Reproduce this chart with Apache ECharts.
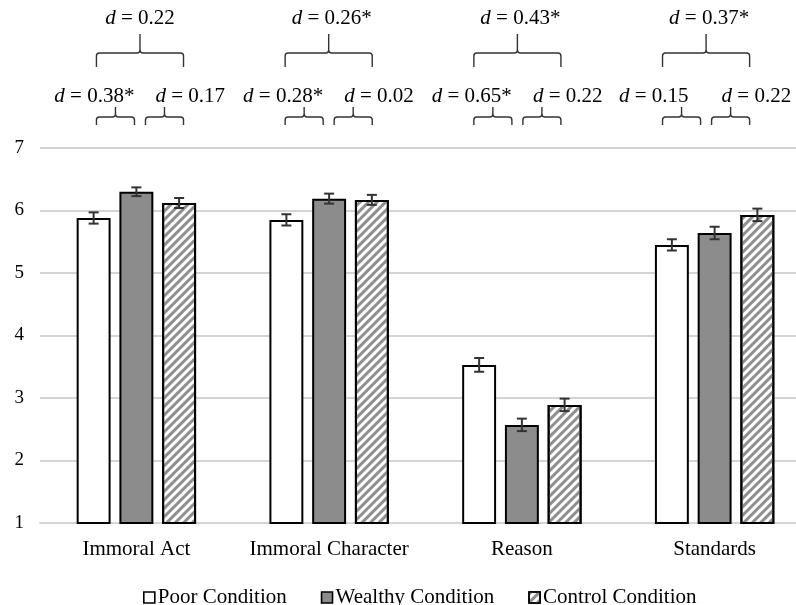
<!DOCTYPE html>
<html>
<head>
<meta charset="utf-8">
<script src="https://cdn.jsdelivr.net/npm/echarts@6/dist/echarts.min.js"></script>
<style>
html,body{margin:0;padding:0;background:#fff;}
#chart{width:796px;height:605px;}
</style>
</head>
<body>
<div id="chart"></div>
<script>
// ---- data ----
const categories = ['Immoral Act', 'Immoral Character', 'Reason', 'Standards'];
const seriesNames = ['Poor Condition', 'Wealthy Condition', 'Control Condition'];
const poorMeans = [5.88, 5.85, 3.53, 5.45];
const wealthyMeans = [6.30, 6.19, 2.57, 5.64];
const controlMeans = [6.12, 6.17, 2.89, 5.93];
const poorErr = [0.09, 0.09, 0.11, 0.09];
const wealthyErr = [0.07, 0.08, 0.10, 0.10];
const controlErr = [0.08, 0.08, 0.10, 0.10];
const yTicks = [1, 2, 3, 4, 5, 6, 7];
// effect sizes: overall (top), poor vs wealthy (left), wealthy vs control (right)
const dOverall = ['0.22', '0.26*', '0.43*', '0.37*'];
const dPoorWealthy = ['0.38*', '0.28*', '0.65*', '0.15'];
const dWealthyControl = ['0.17', '0.02', '0.22', '0.22'];

// ---- styling ----
const FONT = "'Liberation Serif', 'Times New Roman', serif";
const BAR_W = 0.176;   // fraction of band
const BAR_GAP = 0.26;  // fraction of bar width
const LINE = '#333';
const FS = 21;
const ANN_ORIGIN = 308;  // annotation overlay is slightly compressed horizontally
const ANN_SCALE = 0.979;

const means = [poorMeans, wealthyMeans, controlMeans];
const errs = [poorErr, wealthyErr, controlErr];

const chart = echarts.init(document.getElementById('chart'), null, {renderer: 'canvas'});

function barOffset(api, k) {
  const band = api.size([1, 0])[0];
  const bw = band * BAR_W;
  return (k - 1) * bw * (1 + BAR_GAP);
}

function errorSeries(k) {
  return {
    type: 'custom',
    name: seriesNames[k] + ' error',
    z: 5,
    silent: true,
    data: means[k].map((m, i) => [i, m - errs[k][i], m + errs[k][i]]),
    renderItem: function (params, api) {
      const i = api.value(0);
      const lo = api.coord([i, api.value(1)]);
      const hi = api.coord([i, api.value(2)]);
      const x = lo[0] + barOffset(api, k);
      const cap = 5;
      return {
        type: 'group',
        children: [
          {type: 'line', shape: {x1: x, y1: hi[1], x2: x, y2: lo[1]}, style: {stroke: LINE, lineWidth: 2}},
          {type: 'line', shape: {x1: x - cap, y1: hi[1], x2: x + cap, y2: hi[1]}, style: {stroke: LINE, lineWidth: 2}},
          {type: 'line', shape: {x1: x - cap, y1: lo[1], x2: x + cap, y2: lo[1]}, style: {stroke: LINE, lineWidth: 2}}
        ]
      };
    }
  };
}

function bracketPath(x1, x2, yH, yTop, yEnd) {
  const xm = (x1 + x2) / 2;
  const r = 3;
  return 'M' + x1 + ',' + yEnd + ' L' + x1 + ',' + (yH + r) +
    ' Q' + x1 + ',' + yH + ' ' + (x1 + r) + ',' + yH +
    ' L' + (xm - r) + ',' + yH +
    ' Q' + xm + ',' + yH + ' ' + xm + ',' + (yH - r) +
    ' L' + xm + ',' + yTop +
    ' M' + xm + ',' + (yH - r) +
    ' Q' + xm + ',' + yH + ' ' + (xm + r) + ',' + yH +
    ' L' + (x2 - r) + ',' + yH +
    ' Q' + x2 + ',' + yH + ' ' + x2 + ',' + (yH + r) +
    ' L' + x2 + ',' + yEnd;
}

function dText(val) { return '{i|d} = ' + val; }
const richD = {i: {fontStyle: 'italic', fontFamily: FONT, fontSize: FS, fill: '#000'}};

const annotationSeries = {
  type: 'custom',
  name: 'annotations',
  z: 6,
  silent: true,
  clip: false,
  data: categories.map((c, i) => [i, 7]),
  renderItem: function (params, api) {
    const i = api.value(0);
    const p = api.coord([i, 7]);
    const ax = ANN_ORIGIN + (p[0] - ANN_ORIGIN) * ANN_SCALE;
    const top = p[1];
    const step = api.size([1, 0])[0] * BAR_W * (1 + BAR_GAP);
    // big bracket
    const bx1 = ax - step - 0.8, bx2 = ax + step + 0.8;
    // small brackets
    const s1a = bx1, s1b = ax - 5.5;
    const s2a = ax + 5.5, s2b = bx2;
    const t1 = (s1a + s1b) / 2, t2 = (s2a + s2b) / 2;
    const star = s => s.indexOf('*') >= 0;
    const textStyleBase = {fontFamily: FONT, fontSize: FS, fill: '#000', rich: richD, verticalAlign: 'middle'};
    return {
      type: 'group',
      children: [
        {type: 'path', shape: {pathData: bracketPath(bx1, bx2, top - 95, top - 114, top - 81)},
         style: {stroke: LINE, lineWidth: 1.4, fill: null}},
        {type: 'path', shape: {pathData: bracketPath(s1a, s1b, top - 31, top - 41, top - 23)},
         style: {stroke: LINE, lineWidth: 1.4, fill: null}},
        {type: 'path', shape: {pathData: bracketPath(s2a, s2b, top - 31, top - 41, top - 23)},
         style: {stroke: LINE, lineWidth: 1.4, fill: null}},
        {type: 'text', x: ax + (star(dOverall[i]) ? 3 : 0), y: top - 130,
         style: Object.assign({}, textStyleBase, {text: dText(dOverall[i]), align: 'center'})},
        {type: 'text', x: t1 + (star(dPoorWealthy[i]) ? 19 : 7), y: top - 52,
         style: Object.assign({}, textStyleBase, {text: dText(dPoorWealthy[i]), align: 'right'})},
        {type: 'text', x: t2 - 9, y: top - 52,
         style: Object.assign({}, textStyleBase, {text: dText(dWealthyControl[i]), align: 'left'})}
      ]
    };
  }
};

const barCommon = {
  type: 'bar',
  barWidth: (BAR_W * 100) + '%',
  barGap: (BAR_GAP * 100) + '%',
  z: 3
};

const option = {
  animation: false,
  backgroundColor: '#fff',
  textStyle: {fontFamily: FONT},
  grid: {left: 40, width: 771, top: 148, bottom: 82, containLabel: false, outerBoundsMode: 'none'},
  legend: {
    data: seriesNames,
    left: 138,
    top: 582,
    icon: 'rect',
    itemWidth: 11,
    itemHeight: 11,
    itemGap: 34,
    textStyle: {fontFamily: FONT, fontSize: FS, color: '#000', padding: [0, 0, 0, -2]},
    itemStyle: {borderColor: '#000', borderWidth: 1.6}
  },
  xAxis: {
    type: 'category',
    data: categories,
    axisTick: {show: false},
    axisLine: {lineStyle: {color: '#d4d4d4', width: 2}},
    axisLabel: {interval: 0, fontFamily: FONT, fontSize: FS, color: '#000', margin: 16}
  },
  yAxis: {
    type: 'value',
    min: yTicks[0],
    max: yTicks[yTicks.length - 1],
    interval: 1,
    axisLine: {show: false},
    axisTick: {show: false},
    axisLabel: {fontFamily: FONT, fontSize: 19, color: '#000', margin: 16},
    splitLine: {lineStyle: {color: '#d4d4d4', width: 2}}
  },
  series: [
    Object.assign({}, barCommon, {
      name: seriesNames[0], data: poorMeans,
      itemStyle: {color: '#ffffff', borderColor: '#000', borderWidth: 2}
    }),
    Object.assign({}, barCommon, {
      name: seriesNames[1], data: wealthyMeans,
      itemStyle: {color: '#8c8c8c', borderColor: '#000', borderWidth: 2}
    }),
    Object.assign({}, barCommon, {
      name: seriesNames[2], data: controlMeans,
      itemStyle: {
        color: '#ffffff', borderColor: '#000', borderWidth: 2,
        decal: {
          symbol: 'rect', symbolSize: 1,
          dashArrayX: [1, 0], dashArrayY: [3, 3],
          rotation: -Math.PI / 4,
          color: '#8f8f8f'
        }
      }
    }),
    errorSeries(0), errorSeries(1), errorSeries(2),
    annotationSeries
  ]
};

chart.setOption(option);
</script>
</body>
</html>
